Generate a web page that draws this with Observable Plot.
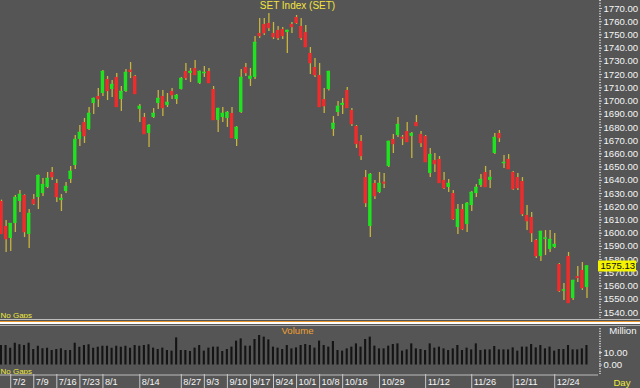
<!DOCTYPE html>
<html><head><meta charset="utf-8">
<script src="https://cdn.jsdelivr.net/npm/d3@7"></script>
<script src="https://cdn.jsdelivr.net/npm/@observablehq/plot@0.6"></script>
<style>
html,body{margin:0;padding:0;background:#555555;}
#chart{width:640px;height:388px;overflow:hidden;background:#555555;}
#sep{height:8px;background:linear-gradient(to bottom,#555 0px,#555 1px,#bdbdbd 1px,#bdbdbd 2px,#555 2px,#555 3px,#e8952a 3px,#e8952a 4.5px,#ffffff 4.5px,#ffffff 6px,#555 6px,#555 7px,#a9a9a9 7px,#a9a9a9 8px);}
svg{display:block}
</style></head><body><div id="chart"></div>
<script>
const dates = ("6/28 6/29 7/2 7/3 7/4 7/5 7/6 7/9 7/10 7/11 7/12 7/13 7/16 7/17 7/18 7/19 7/20 7/23 7/24 7/25 7/26 7/31 " +
"8/1 8/2 8/3 8/6 8/7 8/8 8/9 8/10 8/14 8/15 8/16 8/17 8/20 8/21 8/22 8/23 8/24 8/27 8/28 8/29 8/30 8/31 " +
"9/3 9/4 9/5 9/6 9/7 9/10 9/11 9/12 9/13 9/14 9/17 9/18 9/19 9/20 9/21 9/24 9/25 9/26 9/27 9/28 " +
"10/1 10/2 10/3 10/4 10/5 10/8 10/9 10/10 10/11 10/12 10/16 10/17 10/18 10/19 10/22 10/24 10/25 10/26 10/29 10/30 10/31 " +
"11/1 11/2 11/5 11/6 11/7 11/8 11/9 11/12 11/13 11/14 11/15 11/16 11/19 11/20 11/21 11/22 11/23 11/26 11/27 11/28 11/29 11/30 " +
"12/3 12/4 12/6 12/7 12/11 12/12 12/13 12/14 12/17 12/18 12/19 12/20 12/21 12/24 12/25 12/26 12/27 12/28 1/2 1/3 1/4").split(" ");

const open = [
1624.0,1605.1,1596.0,1607.3,1624.0,1628.5,1599.0,1625.5,1627.0,1630.0,
1634.6,1645.9,1637.6,1624.7,1631.5,1640.6,1651.2,1670.9,1683.7,1678.5,
1698.1,1703.4,1705.7,1716.3,1708.7,1717.8,1701.1,1707.2,1723.4,1718.6,
1693.6,1687.5,1675.4,1687.5,1698.1,1703.4,1696.6,1707.2,1701.1,1708.7,
1722.3,1720.8,1724.6,1713.3,1720.8,1722.3,1708.7,1685.3,1687.5,1686.8,
1690.6,1670.9,1691.3,1725.4,1716.3,1717.8,1751.1,1757.9,1758.7,1751.1,
1753.4,1754.1,1751.8,1757.9,1763.2,1756.4,1751.8,1736.0,1725.4,1719.3,
1701.1,1708.7,1678.5,1691.3,1696.6,1708.0,1692.8,1680.7,1669.4,1642.1,
1605.1,1637.6,1630.8,1638.6,1650.5,1670.9,1673.9,1672.6,1676.9,1673.2,
1683.7,1674.7,1673.2,1645.2,1655.0,1655.8,1639.9,1634.6,1630.0,1604.3,
1617.9,1606.6,1620.9,1630.0,1636.1,1645.9,1639.9,1660.3,1675.4,1652.7,
1655.8,1645.9,1642.1,1639.1,1613.4,1611.9,1594.5,1582.4,1595.8,1587.7,
1589.2,1576.3,1556.5,1582.4,1550.6,1567.2,1571.8,1558.9];
const high = [
1625.0,1609.6,1607.3,1628.5,1632.3,1629.0,1617.9,1629.3,1644.0,1641.4,
1645.9,1649.7,1640.6,1629.3,1638.4,1650.5,1673.9,1681.5,1686.8,1695.1,
1702.2,1709.5,1723.1,1718.6,1715.5,1720.8,1711.0,1723.8,1729.1,1719.3,
1697.4,1690.6,1682.2,1694.3,1708.0,1708.0,1705.7,1709.5,1704.9,1717.8,
1728.4,1724.6,1730.7,1722.7,1726.1,1724.6,1711.0,1694.5,1695.1,1692.1,
1695.1,1680.7,1723.8,1728.4,1724.6,1748.8,1762.4,1762.4,1766.2,1759.4,
1756.4,1755.6,1753.6,1759.4,1764.7,1762.4,1757.1,1740.5,1732.2,1728.4,
1709.5,1722.5,1688.3,1699.6,1701.9,1710.2,1694.3,1681.5,1673.9,1647.4,
1645.2,1639.9,1645.9,1645.2,1669.6,1674.7,1687.5,1673.9,1683.7,1676.2,
1689.0,1676.9,1673.9,1664.1,1660.3,1658.0,1645.9,1640.6,1632.3,1621.7,
1621.7,1623.2,1631.5,1636.8,1644.4,1650.5,1647.4,1675.4,1677.7,1658.8,
1659.5,1646.7,1645.2,1642.1,1620.9,1615.7,1595.2,1601.5,1602.0,1602.0,
1599.8,1577.1,1561.9,1585.4,1564.4,1574.8,1577.8,1575.3];
const low = [
1599.0,1585.4,1586.1,1600.5,1615.7,1596.7,1588.4,1620.9,1617.9,1627.8,
1633.8,1639.9,1623.2,1616.4,1630.0,1637.6,1648.2,1665.6,1667.9,1677.7,
1689.8,1695.1,1703.4,1700.4,1702.7,1695.1,1692.1,1706.4,1717.0,1704.9,
1683.7,1675.0,1664.8,1686.8,1693.6,1688.3,1695.1,1701.1,1697.4,1708.3,
1715.5,1714.0,1719.3,1712.5,1717.8,1713.3,1685.3,1676.2,1683.7,1680.0,
1672.0,1665.6,1690.6,1718.6,1711.0,1716.3,1747.3,1749.6,1752.6,1746.5,
1745.8,1746.5,1736.0,1751.1,1757.9,1745.8,1741.0,1720.1,1717.8,1695.7,
1690.6,1707.6,1673.2,1688.3,1689.8,1694.9,1680.7,1664.1,1655.0,1619.4,
1596.7,1625.5,1630.0,1633.8,1649.7,1660.3,1672.4,1666.3,1668.6,1656.5,
1680.7,1664.8,1653.5,1642.1,1645.9,1637.6,1633.1,1630.8,1609.6,1599.0,
1602.0,1600.5,1616.4,1627.0,1634.6,1634.6,1633.8,1659.5,1668.6,1648.9,
1648.2,1632.3,1632.3,1612.6,1602.0,1593.0,1580.8,1578.6,1583.1,1585.4,
1588.4,1555.2,1549.1,1546.8,1549.1,1562.7,1556.7,1550.6];
const close = [
1599.8,1596.0,1607.3,1627.0,1629.3,1601.3,1614.9,1622.5,1643.6,1636.8,
1641.4,1642.9,1627.8,1626.2,1635.3,1646.7,1670.9,1676.2,1673.9,1690.6,
1701.9,1701.9,1722.3,1708.0,1712.5,1695.9,1707.2,1721.6,1722.5,1705.7,
1695.9,1675.4,1681.5,1690.6,1701.9,1695.1,1698.9,1704.9,1704.2,1717.0,
1717.8,1722.3,1720.1,1722.3,1721.6,1714.0,1686.0,1694.3,1690.6,1691.3,
1672.4,1680.0,1717.8,1721.6,1718.6,1744.3,1749.6,1751.8,1755.6,1748.8,
1748.1,1749.6,1753.4,1756.4,1759.4,1748.1,1741.2,1729.1,1720.1,1695.9,
1696.6,1722.3,1683.0,1695.9,1698.1,1695.1,1683.0,1667.9,1658.8,1623.2,
1644.4,1628.5,1637.6,1638.0,1669.4,1667.9,1682.2,1672.1,1669.4,1675.4,
1681.5,1668.6,1654.2,1659.5,1652.7,1638.4,1634.6,1637.6,1611.1,1617.9,
1603.5,1622.5,1630.8,1634.6,1640.6,1635.3,1642.1,1672.4,1672.4,1653.5,
1648.9,1633.8,1634.6,1614.9,1609.6,1600.5,1583.1,1601.3,1596.2,1595.2,
1591.4,1556.7,1557.0,1547.6,1564.2,1566.5,1558.9,1575.13];
const volume = [
15.6,15.6,13.4,17.4,16.2,15.6,17.4,12.4,15.0,13.0,
13.4,11.6,12.4,13.0,11.6,11.6,17.4,14.2,15.6,16.2,
13.4,14.2,15.0,15.0,13.4,15.0,14.2,15.0,13.4,15.6,
15.0,15.6,16.2,13.5,12.4,13.5,11.6,11.1,21.7,11.6,
11.6,10.8,13.5,15.6,11.1,13.5,14.3,14.3,10.8,12.4,
14.3,19.1,20.9,15.1,15.1,20.4,23.6,22.3,20.1,14.3,
13.5,12.4,15.6,12.9,13.7,15.6,16.4,15.6,13.5,19.1,
15.6,14.3,18.8,11.6,11.1,12.9,14.3,16.9,14.3,20.4,
22.3,15.1,12.9,12.9,15.1,16.4,16.9,11.1,12.1,16.9,
12.9,12.4,11.6,16.9,13.5,14.3,12.9,11.6,12.9,15.6,
11.6,13.5,12.1,16.9,11.6,12.1,12.1,14.8,12.1,12.1,
12.1,13.7,11.1,14.3,14.3,16.4,13.7,15.6,12.9,14.3,
11.1,12.4,12.4,15.6,12.1,12.1,12.9,15.6];
const tickLabels = ["7/2","7/9","7/16","7/23","8/1","8/14","8/27","9/3","9/10","9/17","9/24","10/1","10/8","10/16","10/29","11/12","11/26","12/11","12/24"];
const priceTicks = d3.range(1540, 1771, 10);
const priceMinor = d3.range(1536, 1777, 2);
const volTicks = [0, 10];
const volMinor = d3.range(-7, 31, 2);
const title = "SET Index (SET)";

const candles = dates.map((d, i) => ({date: d, open: open[i], high: high[i], low: low[i], close: close[i], volume: volume[i]}));
const lastClose = [close[close.length - 1]];

const BG = "#555555", GREEN = "#1ee31e", RED = "#ef2b2b", WICK = "#c9b43c", YEL = "#eeea3c";
const FONT = "'Liberation Sans',Arial,sans-serif";
const xOpt = {type: "band", domain: dates, range: [-1.3, 588.8], padding: 0, axis: null};
const colorOf = d => d.close >= d.open ? GREEN : RED;

const main = Plot.plot({
  width: 640, height: 318, marginLeft: 0, marginRight: 42, marginTop: 0, marginBottom: 0,
  style: {background: BG, fontFamily: FONT, fontSize: "10px", color: "#f2f2f2"},
  x: xOpt,
  y: {domain: [1535.46, 1776.05], axis: null},
  marks: [
    Plot.axisY({anchor: "right", ticks: priceMinor, tickSize: 2, tickFormat: () => "", label: null, stroke: "#cfcfcf"}),
    Plot.axisY({anchor: "right", ticks: priceTicks, tickSize: 3, tickPadding: 2, tickFormat: d => d.toFixed(2), label: null, stroke: "#cfcfcf", fill: "#f4f4f4", fontSize: 9.6}),
    Plot.ruleX(candles, {x: "date", y1: "low", y2: "high", stroke: WICK, strokeWidth: 1.3}),
    Plot.barY(candles, {x: "date", y1: "open", y2: "close", fill: colorOf, insetLeft: 0.6, insetRight: 0.6}),
    Plot.tickY(candles, {x: "date", y: "close", stroke: colorOf, strokeWidth: 1.4, insetLeft: 0.6, insetRight: 0.6}),
    Plot.text([title], {frameAnchor: "top", lineAnchor: "middle", dy: 5, dx: -2, text: d => d, fill: "#f3e43f", fontSize: 10}),
    Plot.text(["No Gaps"], {frameAnchor: "bottom-left", dy: -1, text: d => d, fill: YEL, fontSize: 8}),
    // last-price tag on the right axis
    Plot.ruleY(lastClose, {y: d => d, stroke: "#f4f400", strokeWidth: 11, insetLeft: 598, insetRight: -38}),
    Plot.text(lastClose, {y: d => d, frameAnchor: "right", textAnchor: "start", dx: 2, text: d => d.toFixed(2), fill: "#111111", fontSize: 9.6})
  ]
});

const vol = Plot.plot({
  width: 640, height: 48, marginLeft: 0, marginRight: 42, marginTop: 0, marginBottom: 0,
  style: {background: BG, fontFamily: FONT, fontSize: "9px", color: "#f2f2f2"},
  x: xOpt,
  y: {domain: [-7.6, 30.8], axis: null},
  marks: [
    Plot.barY(candles, {x: "date", y: "volume", fill: "#141414", insetLeft: 1.2, insetRight: 1.3}),
    Plot.axisY({anchor: "right", ticks: volMinor, tickSize: 2, tickFormat: () => "", label: null, stroke: "#cfcfcf"}),
    Plot.axisY({anchor: "right", ticks: volTicks, tickSize: 3, tickPadding: 2, tickFormat: d => d.toFixed(2), label: null, stroke: "#cfcfcf", fill: "#f4f4f4", fontSize: 9.6}),
    Plot.text(["Volume"], {frameAnchor: "top", lineAnchor: "middle", dy: 4.5, dx: -2, text: d => d, fill: "#f0a030", fontSize: 9.6}),
    Plot.text(["Million"], {frameAnchor: "top-right", lineAnchor: "middle", dy: 4.5, dx: 38, textAnchor: "end", text: d => d, fill: "#f4f4f4", fontSize: 9.6}),
    Plot.text(["No Gaps"], {frameAnchor: "bottom-left", dy: -1, text: d => d, fill: YEL, fontSize: 8})
  ]
});

const axisRow = Plot.plot({
  width: 640, height: 14, marginLeft: 0, marginRight: 42, marginTop: 0, marginBottom: 0,
  style: {background: BG, fontFamily: FONT, fontSize: "9px", color: "#f2f2f2"},
  x: xOpt,
  y: {domain: [0, 1], axis: null},
  marks: [
    Plot.ruleY([1], {stroke: "#bdbdbd", dy: 0.5}),
    Plot.ruleX(tickLabels, {x: d => d, stroke: "#c8c8c8"}),
    Plot.text(tickLabels, {x: d => d, text: d => d, textAnchor: "start", dx: 2, dy: 1, frameAnchor: "middle", fill: "#f4f4f4", fontSize: 9.2}),
    Plot.text(["Day"], {frameAnchor: "right", dx: 32, dy: 1, textAnchor: "end", text: d => d, fill: YEL, fontSize: 9.6})
  ]
});

const root = document.getElementById("chart");
root.append(main);
const sep = document.createElement("div"); sep.id = "sep"; root.append(sep);
root.append(vol);
root.append(axisRow);
</script>
</body></html>
